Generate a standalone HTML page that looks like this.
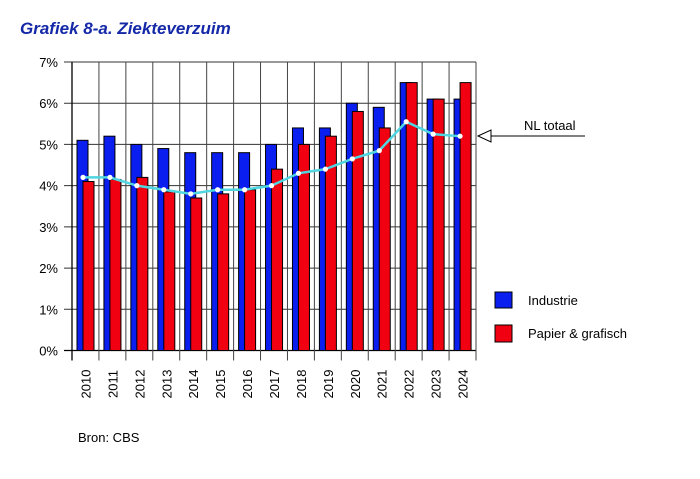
<!DOCTYPE html>
<html><head><meta charset="utf-8"><style>
body{margin:0;background:#fff;width:700px;height:474px;overflow:hidden;font-family:"Liberation Sans",Arial,sans-serif}
</style></head><body>
<svg id="c" width="700" height="474" xmlns="http://www.w3.org/2000/svg">
<text x="20" y="34" font-size="17" font-weight="bold" font-style="italic" fill="#1428a8">Grafiek 8-a. Ziekteverzuim</text>
<g id="grid"></g>
<g id="bars"></g>
<g id="line"></g>
<g id="axes"></g>
<g>
<line x1="480" y1="136" x2="585" y2="136" stroke="#000" stroke-width="1"/>
<polygon points="478,136 491,130 491,142" fill="#fff" stroke="#000" stroke-width="1"/>
<text x="524" y="130" font-size="13" fill="#000">NL totaal</text>
</g>
<g>
<rect x="495" y="292" width="17" height="16" fill="#0a1ef0" stroke="#000"/>
<text x="528" y="305" font-size="13">Industrie</text>
<rect x="495" y="325" width="17" height="17" fill="#f00010" stroke="#000"/>
<text x="528" y="338" font-size="13">Papier &amp; grafisch</text>
</g>
<text x="78" y="442" font-size="13">Bron:  CBS</text>
</svg>
<script>
const years=["2010","2011","2012","2013","2014","2015","2016","2017","2018","2019","2020","2021","2022","2023","2024"];
const industrie=[5.1,5.2,5.0,4.9,4.8,4.8,4.8,5.0,5.4,5.4,6.0,5.9,6.5,6.1,6.1];
const papier=[4.1,4.15,4.2,3.85,3.7,3.8,3.9,4.4,5.0,5.2,5.8,5.4,6.5,6.1,6.5];
const nlTotaal=[4.2,4.2,4.0,3.9,3.8,3.9,3.9,4.0,4.3,4.4,4.65,4.85,5.55,5.25,5.2];
const yTicks=[0,1,2,3,4,5,6,7];
const NS="http://www.w3.org/2000/svg";
const X0=72,X1=476,Y0=350.5,Y1=62,step=(X1-X0)/years.length;
const xs=i=>X0+i*step, ys=v=>Y0-(v/7)*(Y0-Y1);
function mk(tag,attrs,parent){const e=document.createElementNS(NS,tag);for(const k in attrs)e.setAttribute(k,attrs[k]);document.getElementById(parent).appendChild(e);return e;}
yTicks.forEach(t=>{
 const l=mk('line',{x1:64,x2:X1,y1:ys(t),y2:ys(t),stroke:t==0?'#000':'#333','stroke-width':t==0?1.3:1},'grid');
 
 
 const tx=mk('text',{x:58,y:ys(t)+5,'font-size':13,'text-anchor':'end'},'axes');
 tx.textContent=t+'%';
 
 
});
for(let i=0;i<=years.length;i++){
 const l=mk('line',{x1:xs(i),x2:xs(i),y1:Y1,y2:Y0+10,stroke:i==0?'#000':'#444','stroke-width':i==0?1.3:1},'grid');
 
 
}
years.forEach((y,i)=>{
 const b=mk('rect',{x:xs(i)+5,y:ys(industrie[i]),width:11,height:Y0-ys(industrie[i]),fill:'#0a1ef0',stroke:'#000','stroke-width':1},'bars');
 
 
 const r=mk('rect',{x:xs(i)+11,y:ys(papier[i]),width:11,height:Y0-ys(papier[i]),fill:'#f00010',stroke:'#000','stroke-width':1},'bars');
 
 
 const cx=xs(i)+step/2;
 const t=mk('text',{x:0,y:0,'font-size':13,transform:`translate(${cx+5},384) rotate(-90)`,'text-anchor':'middle'},'axes');
 t.textContent=y;
 
 
});
const pts=nlTotaal.map((v,i)=>[xs(i)+11,ys(v)]);
const pl=mk('polyline',{points:pts.map(p=>p.join(',')).join(' '),fill:'none',stroke:'#4fd6e0','stroke-width':2.5},'line');


pts.forEach(p=>{
 const c=mk('circle',{cx:p[0],cy:p[1],r:2.6,fill:'#fff'},'line');
 
 
});
</script>
</body></html>
